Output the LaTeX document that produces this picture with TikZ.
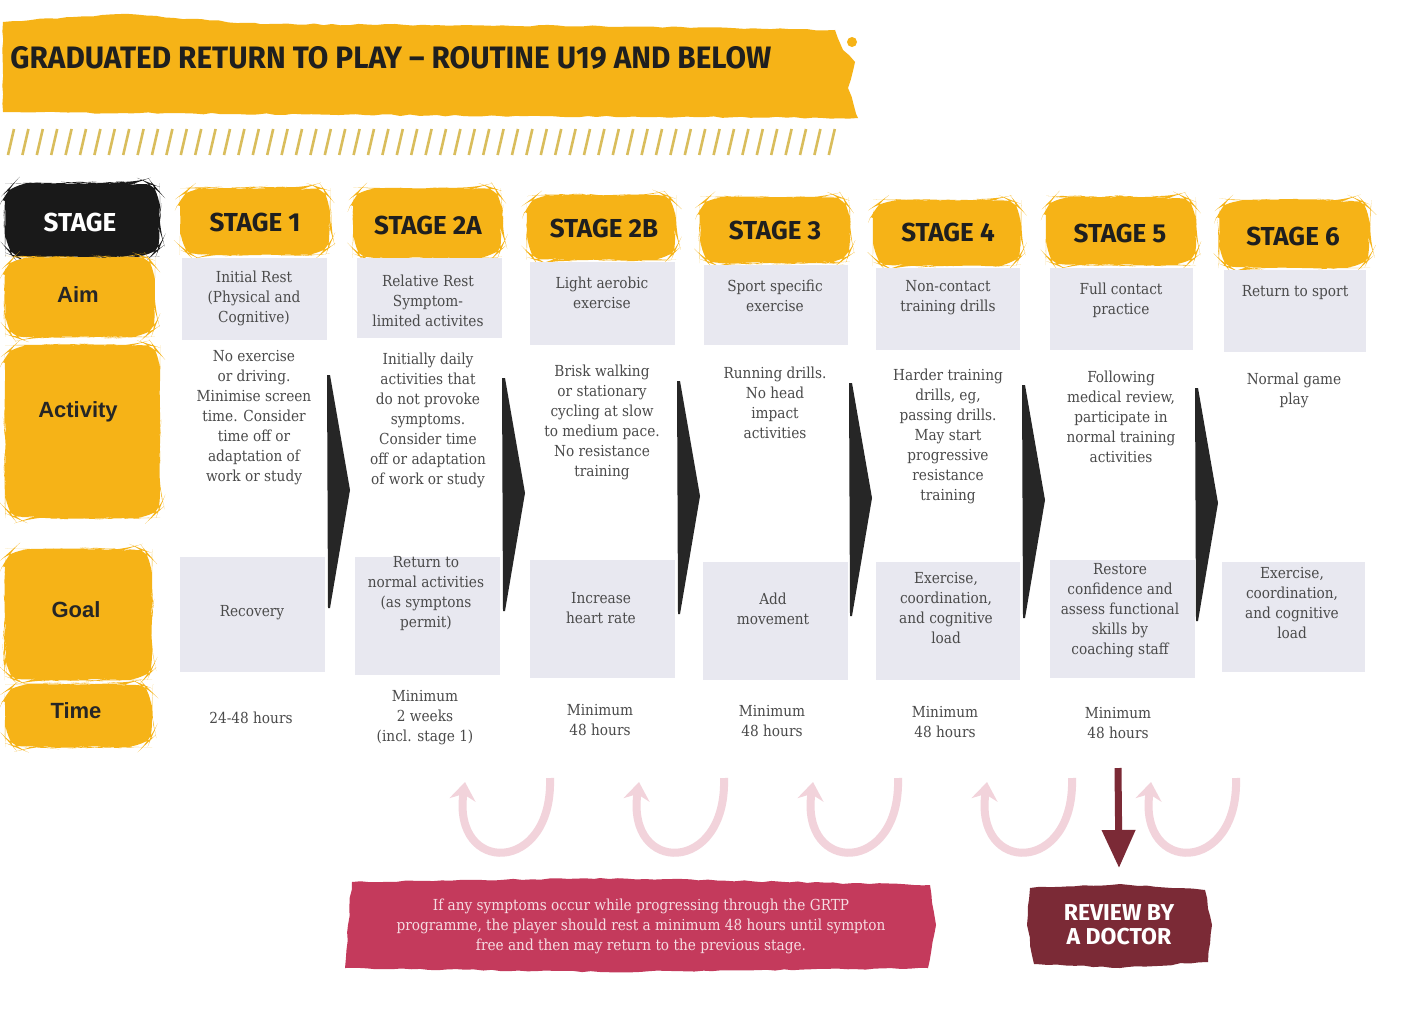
\documentclass[tikz,border=0pt]{standalone}
\usepackage{fontspec}
\setmainfont{DejaVu Serif Condensed}
\newfontfamily\labfont{Liberation Sans}
\newfontfamily\handfont{Fira Sans}
\usetikzlibrary{decorations.pathmorphing,arrows.meta}
\definecolor{gold}{HTML}{F6B317}
\definecolor{cellgray}{HTML}{E8E8F0}
\definecolor{txt}{HTML}{4A4A4A}
\definecolor{hatchc}{HTML}{D9BD5C}
\definecolor{uturn}{HTML}{F2D3DB}
\definecolor{maroon}{HTML}{7B2A36}
\definecolor{crimson}{HTML}{C43A5C}
\definecolor{paletxt}{HTML}{F6DCE2}
\pgfmathsetseed{7}
\tikzset{
  brush/.style={decorate,decoration={random steps,segment length=4.5pt,amplitude=0.4pt}},
  celltxt/.style={align=center,text=txt,font=\fontsize{7.6}{10}\selectfont,inner sep=0pt},
  stagehd/.style={font=\handfont\bfseries\fontsize{13}{13}\selectfont,text=black!88,inner sep=0pt},
  rowlab/.style={font=\labfont\bfseries\fontsize{11}{11}\selectfont,text=black!85,inner sep=0pt},
  cellbox/.style={fill=cellgray},
  chevron/.style={fill=black!85},
  uarrow/.style={draw=uturn,line width=4pt,-{Stealth[length=9pt,width=13pt]}},
}
\newcommand\blob[5]{\fill[#5,brush,rounded corners=9pt] (#1,#2) rectangle (#3,#4);}
\newcommand\chev[2]{\fill[chevron] (#1,#2) -- (#1+3,#2) -- (#1+23,#2+115) -- (#1+3,#2+233) -- (#1+1,#2+233) -- cycle;}
\begin{document}
\begin{tikzpicture}[x=0.5pt,y=-0.5pt]
\useasboundingbox (0,0) rectangle (1407,1018);
\fill[white] (0,0) rectangle (1407,1018);
% title banner
\fill[gold,brush] (3,22) -- (120,14) -- (260,24) -- (600,26) -- (835,30) -- (843,50) -- (855,62) -- (848,88) -- (858,118) -- (500,116) -- (3,112) -- cycle;
\fill[gold] (852,42) circle (5);
\node[anchor=west,inner sep=0pt,font=\handfont\bfseries\fontsize{15.5}{15.5}\selectfont,text=black!88] (title) at (10,58) {\scalebox{0.96}[1]{GRADUATED RETURN TO PLAY – ROUTINE U19 AND BELOW}};
% hatch
\foreach \i in {0,...,57} {\draw[hatchc,line width=1.3pt] (8+\i*14.4,155) -- (14+\i*14.4,129);}
% row labels
\blob{5}{183}{160}{257}{black!90}
\blob{5}{257}{155}{337}{gold}
\blob{5}{345}{160}{518}{gold}
\blob{5}{549}{152}{680}{gold}
\blob{5}{684}{152}{747}{gold}
\node[font=\handfont\bfseries\fontsize{13}{13}\selectfont,text=white,inner sep=0pt] (lstage) at (80,222) {STAGE};
\node[rowlab] (laim) at (78,295) {Aim};
\node[rowlab] (lact) at (78,412) {Activity};
\node[rowlab] (lgoal) at (76,610) {Goal};
\node[rowlab] (ltime) at (76,711) {Time};
% stage headers
\blob{180}{188}{330}{255}{gold}
\blob{353}{188}{502}{258}{gold}
\blob{527}{195}{676}{260}{gold}
\blob{700}{197}{850}{263}{gold}
\blob{873}{200}{1021}{266}{gold}
\blob{1046}{197}{1196}{265}{gold}
\blob{1219}{200}{1370}{268}{gold}
\node[stagehd] (s1) at (255,222) {STAGE 1};
\node[stagehd] (s2a) at (428,225) {STAGE 2A};
\node[stagehd] (s2b) at (604,228) {STAGE 2B};
\node[stagehd] (s3) at (775,230) {STAGE 3};
\node[stagehd] (s4) at (948,232) {STAGE 4};
\node[stagehd] (s5) at (1120,233) {STAGE 5};
\node[stagehd] (s6) at (1293,236) {STAGE 6};
% aim boxes
\fill[cellbox] (182,258) rectangle (327,340);
\fill[cellbox] (357,258) rectangle (502,338);
\fill[cellbox] (530,262) rectangle (675,345);
\fill[cellbox] (704,265) rectangle (848,345);
\fill[cellbox] (876,268) rectangle (1020,350);
\fill[cellbox] (1050,268) rectangle (1193,350);
\fill[cellbox] (1224,270) rectangle (1366,352);
\node[celltxt] (a1) at (254,298) {Initial Rest\\(Physical and\\Cognitive)};
\node[celltxt] (a2a) at (428,301) {Relative Rest\\Symptom-\\limited activites};
\node[celltxt] (a2b) at (602,293) {Light aerobic\\exercise};
\node[celltxt] (a3) at (775,296) {Sport specific\\exercise};
\node[celltxt] (a4) at (948,298) {Non-contact\\training drills};
\node[celltxt] (a5) at (1121,300) {Full contact\\practice};
\node[celltxt] (a6) at (1295,293) {Return to sport};
% activities
\node[celltxt,anchor=north] (ac1) at (254,350) {No exercise\\or driving.\\Minimise screen\\time. Consider\\time off or\\adaptation of\\work or study};
\node[celltxt,anchor=north] (ac2a) at (428,353) {Initially daily\\activities that\\do not provoke\\symptoms.\\Consider time\\off or adaptation\\of work or study};
\node[celltxt,anchor=north] (ac2b) at (602,365) {Brisk walking\\or stationary\\cycling at slow\\to medium pace.\\No resistance\\training};
\node[celltxt,anchor=north] (ac3) at (775,367) {Running drills.\\No head\\impact\\activities};
\node[celltxt,anchor=north] (ac4) at (948,369) {Harder training\\drills, eg,\\passing drills.\\May start\\progressive\\resistance\\training};
\node[celltxt,anchor=north] (ac5) at (1121,371) {Following\\medical review,\\participate in\\normal training\\activities};
\node[celltxt,anchor=north] (ac6) at (1294,373) {Normal game\\play};
% chevrons
\chev{327}{375}
\chev{502}{378}
\chev{677}{381}
\chev{849}{383}
\chev{1022}{385}
\chev{1195}{388}
% goal boxes
\fill[cellbox] (180,557) rectangle (325,672);
\fill[cellbox] (355,557) rectangle (500,675);
\fill[cellbox] (530,560) rectangle (675,678);
\fill[cellbox] (703,562) rectangle (848,680);
\fill[cellbox] (876,562) rectangle (1020,680);
\fill[cellbox] (1050,560) rectangle (1195,678);
\fill[cellbox] (1222,562) rectangle (1365,672);
\node[celltxt] (g1) at (252,613) {Recovery};
\node[celltxt] (g2a) at (426,594) {Return to\\normal activities\\(as symptons\\permit)};
\node[celltxt] (g2b) at (601,608) {Increase\\heart rate};
\node[celltxt] (g3) at (773,609) {Add\\movement};
\node[celltxt] (g4) at (946,608) {Exercise,\\coordination,\\and cognitive\\load};
\node[celltxt] (g5) at (1120,611) {Restore\\confidence and\\assess functional\\skills by\\coaching staff};
\node[celltxt] (g6) at (1292,603) {Exercise,\\coordination,\\and cognitive\\load};
% time
\node[celltxt] (t1) at (251,718) {24-48 hours};
\node[celltxt] (t2a) at (425,718) {Minimum\\2 weeks\\(incl. stage 1)};
\node[celltxt] (t2b) at (600,720) {Minimum\\48 hours};
\node[celltxt] (t3) at (772,721) {Minimum\\48 hours};
\node[celltxt] (t4) at (945,722) {Minimum\\48 hours};
\node[celltxt] (t5) at (1118,723) {Minimum\\48 hours};
% U-turn arrows
\foreach \x in {0,174,348,522,686} {
  \draw[uarrow] (550+\x,778) .. controls (553+\x,875) and (452+\x,875) .. (465+\x,782);
}
% bottom banner
\fill[crimson,brush] (352,882) -- (600,878) -- (930,885) -- (936,925) -- (928,968) -- (600,972) -- (345,968) -- (348,925) -- cycle;
\node[align=center,text=paletxt,font=\fontsize{7.6}{10}\selectfont,inner sep=0pt] (note) at (641,926) {If any symptoms occur while progressing through the GRTP\\programme, the player should rest a minimum 48 hours until sympton\\free and then may return to the previous stage.};
% review box
\fill[maroon,brush] (1030,888) -- (1120,884) -- (1205,890) -- (1212,925) -- (1208,962) -- (1120,968) -- (1034,964) -- (1027,925) -- cycle;
\node[align=center,text=white,font=\handfont\bfseries\fontsize{11.5}{12}\selectfont,inner sep=0pt] (review) at (1119,925) {REVIEW BY\\A DOCTOR};
\coordinate (dstart) at (1118,768);
\draw[maroon,line width=3.5pt,-{Triangle[length=19pt,width=16pt]}] (dstart) -- (review.north |- 0,868);
\end{tikzpicture}
\end{document}
